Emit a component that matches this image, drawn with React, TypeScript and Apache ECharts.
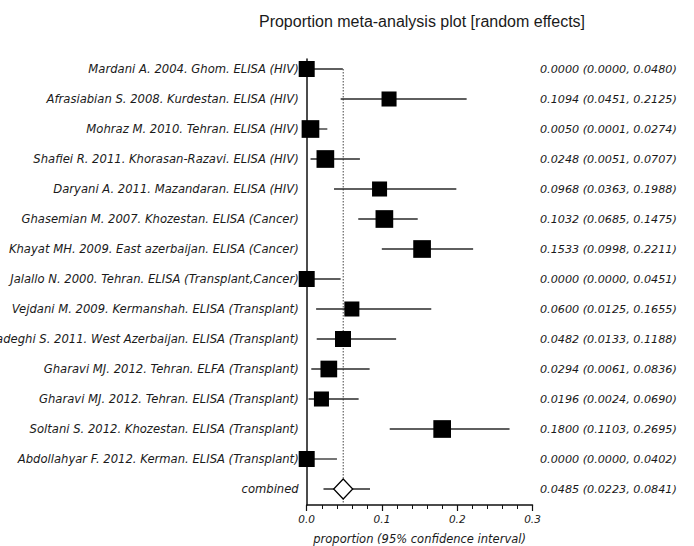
import React, { useEffect, useRef } from "react";
import * as echarts from "echarts";

const studies = [
  "Mardani A. 2004. Ghom. ELISA (HIV)",
  "Afrasiabian S. 2008. Kurdestan. ELISA (HIV)",
  "Mohraz M. 2010. Tehran. ELISA (HIV)",
  "Shafiei R. 2011. Khorasan-Razavi. ELISA (HIV)",
  "Daryani A. 2011. Mazandaran. ELISA (HIV)",
  "Ghasemian M. 2007. Khozestan. ELISA (Cancer)",
  "Khayat MH. 2009. East azerbaijan. ELISA (Cancer)",
  "Jalallo N. 2000. Tehran. ELISA (Transplant,Cancer)",
  "Vejdani M. 2009. Kermanshah. ELISA (Transplant)",
  "Sadeghi S. 2011. West Azerbaijan. ELISA (Transplant)",
  "Gharavi MJ. 2012. Tehran. ELFA (Transplant)",
  "Gharavi MJ. 2012. Tehran. ELISA (Transplant)",
  "Soltani S. 2012. Khozestan. ELISA (Transplant)",
  "Abdollahyar F. 2012. Kerman. ELISA (Transplant)",
];
const estimates = [0.0, 0.1094, 0.005, 0.0248, 0.0968, 0.1032, 0.1533, 0.0, 0.06, 0.0482, 0.0294, 0.0196, 0.18, 0.0];
const lowerCI = [0.0, 0.0451, 0.0001, 0.0051, 0.0363, 0.0685, 0.0998, 0.0, 0.0125, 0.0133, 0.0061, 0.0024, 0.1103, 0.0];
const upperCI = [0.048, 0.2125, 0.0274, 0.0707, 0.1988, 0.1475, 0.2211, 0.0451, 0.1655, 0.1188, 0.0836, 0.069, 0.2695, 0.0402];
const weights = [6.8, 6.0, 8.3, 8.3, 6.0, 8.3, 8.3, 6.8, 6.0, 6.8, 7.4, 6.0, 8.3, 6.8];
const combinedLabel = "combined";
const pooledEstimate = 0.0485;
const pooledLower = 0.0223;
const pooledUpper = 0.0841;
const xTickValues = [0, 0.1, 0.2, 0.3];

const TEXT = "#1a1a1a";
const FONT = "DejaVu Sans";

export default function App() {
  const ref = useRef<HTMLDivElement>(null);

  useEffect(() => {
    if (!ref.current) return;
    const chart = echarts.init(ref.current, null, { renderer: "svg" });

    const rowLabels = [...studies, combinedLabel];
    const allEst = [...estimates, pooledEstimate];
    const allLo = [...lowerCI, pooledLower];
    const allHi = [...upperCI, pooledUpper];
    const lastRow = rowLabels.length - 1;
    const yMin = -1 / 3;
    const yMax = lastRow + 16 / 30;
    const rowIdx = rowLabels.map((_, i) => i);
    const ciText = allEst.map(
      (e, i) => `${e.toFixed(4)} (${allLo[i].toFixed(4)}, ${allHi[i].toFixed(4)})`
    );

    const baseY = {
      type: "value",
      inverse: true,
      min: yMin,
      max: yMax,
      splitLine: { show: false },
      axisTick: { show: false },
    };

    chart.setOption({
      animation: false,
      title: {
        text: "Proportion meta-analysis plot [random effects]",
        left: 417,
        top: 8,
        textAlign: "center",
        textStyle: {
          fontFamily: "Liberation Sans",
          fontSize: 16,
          fontWeight: "normal",
          color: TEXT,
        },
      },
      grid: {
        left: 306.7,
        right: 161.5,
        top: 59,
        bottom: 41,
        containLabel: false,
        outerBoundsMode: "none",
      },
      xAxis: {
        type: "value",
        min: xTickValues[0],
        max: xTickValues[xTickValues.length - 1],
        interval: 0.1,
        axisLine: { show: true, onZero: false, lineStyle: { color: "#111", width: 1.5 } },
        axisTick: { show: true, length: 6, lineStyle: { color: "#111", width: 1.2 } },
        minorTick: { show: true, splitNumber: 5, length: 4, lineStyle: { color: "#111", width: 1 } },
        splitLine: { show: false },
        minorSplitLine: { show: false },
        axisLabel: {
          formatter: (v: number) => v.toFixed(1),
          fontFamily: FONT,
          fontStyle: "italic",
          fontSize: 10.5,
          color: TEXT,
          margin: 8,
        },
        name: "proportion (95% confidence interval)",
        nameLocation: "middle",
        nameGap: 28,
        nameTextStyle: {
          fontFamily: FONT,
          fontStyle: "italic",
          fontSize: 11.5,
          color: TEXT,
        },
      },
      yAxis: [
        {
          ...baseY,
          position: "left",
          axisLine: { show: true, onZero: false, lineStyle: { color: "#111", width: 1.5 } },
          axisLabel: {
            customValues: rowIdx,
            formatter: (v: number) => rowLabels[Math.round(v)] ?? "",
            fontFamily: FONT,
            fontStyle: "italic",
            fontSize: 11.6,
            color: TEXT,
            margin: 8,
          },
        },
        {
          ...baseY,
          position: "right",
          axisLine: { show: false },
          axisLabel: {
            customValues: rowIdx,
            formatter: (v: number) => ciText[Math.round(v)] ?? "",
            fontFamily: FONT,
            fontStyle: "italic",
            fontSize: 11.2,
            color: TEXT,
            margin: 7.5,
          },
        },
      ],
      series: [
        {
          type: "custom",
          name: "pooled",
          xAxisIndex: 0,
          yAxisIndex: 0,
          data: [[pooledEstimate, 0, yMax]],
          encode: { x: 0, y: [1, 2] },
          renderItem: (_p: any, api: any) => {
            const a = api.coord([api.value(0), api.value(1)]);
            const b = api.coord([api.value(0), api.value(2)]);
            return {
              type: "line",
              shape: { x1: a[0], y1: a[1], x2: b[0], y2: b[1] },
              style: { stroke: "#444", lineWidth: 1, lineDash: [1.5, 1.5] },
            };
          },
          z: 1,
        },
        {
          type: "custom",
          name: "ci",
          xAxisIndex: 0,
          yAxisIndex: 0,
          data: allLo.map((lo, i) => [lo, allHi[i], i]),
          encode: { x: [0, 1], y: 2 },
          renderItem: (_p: any, api: any) => {
            const a = api.coord([api.value(0), api.value(2)]);
            const b = api.coord([api.value(1), api.value(2)]);
            return {
              type: "line",
              shape: { x1: a[0], y1: a[1], x2: b[0], y2: b[1] },
              style: { stroke: "#2a2a2a", lineWidth: 1.3 },
            };
          },
          z: 2,
        },
        {
          type: "scatter",
          name: "studies",
          xAxisIndex: 0,
          yAxisIndex: 0,
          clip: false,
          symbol: "rect",
          symbolSize: (val: number[]) => 6.14 * Math.sqrt(val[2]),
          itemStyle: { color: "#000", opacity: 1 },
          data: estimates.map((e, i) => [e, i, weights[i]]),
          z: 3,
        },
        {
          type: "scatter",
          name: "combined",
          xAxisIndex: 0,
          yAxisIndex: 0,
          clip: false,
          symbol: "diamond",
          symbolSize: [19, 20],
          itemStyle: { color: "#fff", borderColor: "#000", borderWidth: 1.3, opacity: 1 },
          data: [[pooledEstimate, lastRow]],
          z: 4,
        },
      ],
    });

    return () => chart.dispose();
  }, []);

  return (
    <div
      ref={ref}
      style={{ position: "absolute", left: 0, top: 0, width: 694, height: 546 }}
    />
  );
}
